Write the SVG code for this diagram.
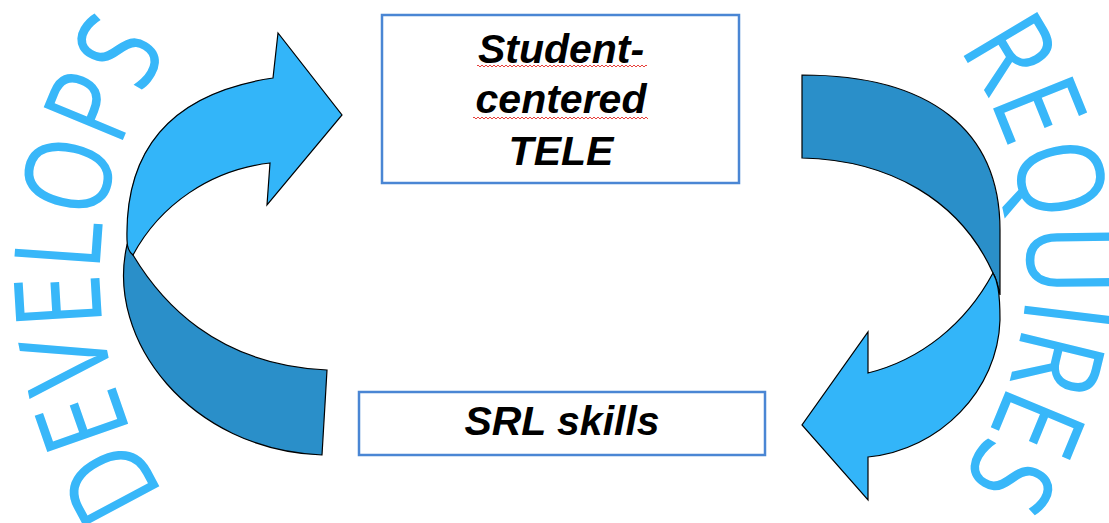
<svg xmlns="http://www.w3.org/2000/svg" width="1109" height="523" viewBox="0 0 1109 523">
<style>
.box{fill:#fff;stroke:#4A86D4;stroke-width:2.5}
.lbl{font-family:"Liberation Sans",Arial,sans-serif;font-weight:bold;font-style:italic;font-size:41px;fill:#000;text-anchor:middle}
.light{fill:#33B5F9;stroke:#000;stroke-width:1.2;stroke-linejoin:miter}
.dark{fill:#2A8FC9;stroke:#000;stroke-width:1.2}
.arc{font-family:"Open Sans","DejaVu Sans",sans-serif;font-size:120px;fill:#38B7F9;font-weight:400}
</style>
<defs>
<path id="pl" d="M 172.3 504.4 A 400 400 0 0 1 172.3 45.6"/>
<path id="pr" d="M 939.5 24.6 A 374 374 0 0 1 939.5 505.4"/>
<pattern id="sq" width="4" height="4" patternUnits="userSpaceOnUse">
<polyline points="0,3 2,1 4,3" fill="none" stroke="#E8413C" stroke-width="1"/>
</pattern>
</defs>
<rect width="1109" height="523" fill="#fff"/>
<g id="word-develops">
<text class="arc"><textPath href="#pl" startOffset="248" text-anchor="middle" textLength="470" lengthAdjust="spacingAndGlyphs">DEVELOPS</textPath></text>
</g>
<g id="word-requires">
<text class="arc"><textPath href="#pr" startOffset="259" text-anchor="middle" textLength="458" lengthAdjust="spacingAndGlyphs">REQUIRES</textPath></text>
</g>
<g id="connectors">
<g id="arrow-develops">
<path class="dark" d="M 133 255 C 160 300, 215 365, 327 370 L 322 455 C 190 450, 105 340, 127 245 Z"/>
<path class="light" d="M 133 255 C 160 205, 210 170, 270 163 L 267 205 L 342 115 L 278 33 L 273 78 C 160 95, 125 160, 127 240 C 127 248, 129 252, 133 255 Z"/>
</g>
<g id="arrow-requires">
<path class="dark" d="M 802 75 C 930 75, 1000 130, 1000 230 L 1000 295 C 998 285, 996 278, 993 273 C 960 200, 890 160, 802 158 Z"/>
<path class="light" d="M 993 273 C 997 280, 1000 290, 1000 320 C 998 390, 940 450, 868 457 L 868 500 L 802 425 L 868 332 L 868 373 C 920 360, 965 325, 993 273 Z"/>
</g>
</g>
<g id="node-tele">
<rect class="box" x="382" y="15" width="357" height="168"/>
<text class="lbl" x="561" y="63">Student-</text>
<text class="lbl" x="561" y="113">centered</text>
<text class="lbl" x="561" y="165">TELE</text>
<rect x="477" y="65" width="170" height="4" fill="url(#sq)"/>
<rect x="473" y="115" width="175" height="4" fill="url(#sq)"/>
</g>
<g id="node-srl">
<rect class="box" x="359" y="392" width="406" height="63"/>
<text class="lbl" x="562" y="435">SRL skills</text>
</g>
</svg>
